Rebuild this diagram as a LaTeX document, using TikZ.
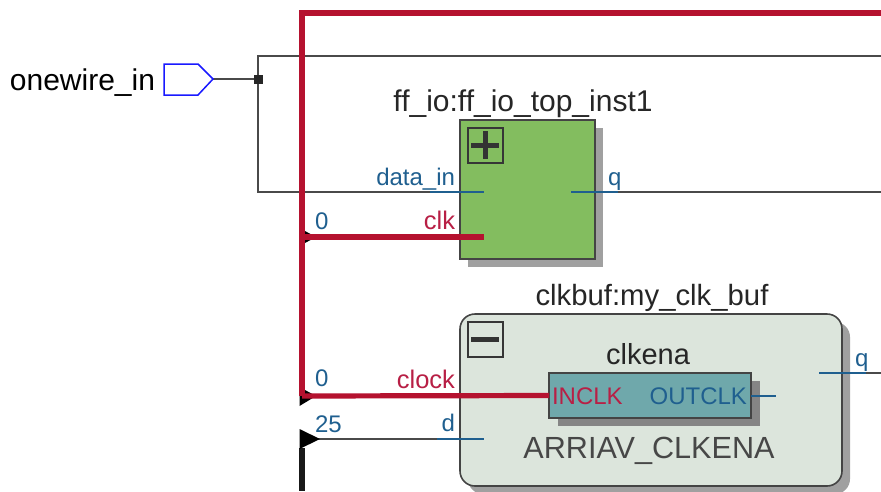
\documentclass[tikz,border=0pt]{standalone}
\usepackage{fontspec}
\setmainfont{Liberation Sans}
\usetikzlibrary{calc}
\definecolor{wirered}{HTML}{B5122F}
\definecolor{portblue}{HTML}{1F5F8F}
\definecolor{portred}{HTML}{B81F45}
\definecolor{wiregrey}{HTML}{4A4A4A}
\definecolor{greenfill}{HTML}{83BD5F}
\definecolor{greyfill}{HTML}{DCE5DC}
\definecolor{tealfill}{HTML}{6FA8AB}
\definecolor{shadowgrey}{HTML}{A0A0A0}
\definecolor{edgegrey}{HTML}{444444}
\tikzset{
  x=1pt,y=-1pt,
  wire/.style={draw=wiregrey,line width=1.4pt},
  bus/.style={draw=wirered,line width=5.2pt},
  blackbus/.style={draw=black!90,line width=5.2pt},
  stub/.style={draw=portblue,line width=1.4pt},
  blockbox/.style={draw=edgegrey,line width=1.6pt,inner sep=0pt,outer sep=0pt,anchor=north west},
  shade box/.style={fill=shadowgrey,draw=none,inner sep=0pt,outer sep=0pt,anchor=north west},
  lbl/.style={inner sep=0pt,outer sep=0pt,font=\fontsize{24}{26}\selectfont,text=#1},
  lbl/.default=portblue,
  title/.style={inner sep=0pt,outer sep=0pt,font=\fontsize{30}{32}\selectfont,text=black!85},
  arrowhead/.style={fill=black,draw=none},
}
\begin{document}
\begin{tikzpicture}
\useasboundingbox (0,0) rectangle (881,491);
\fill[white] (0,0) rectangle (881,491);

% loop wires
\coordinate (pinend) at (213,79);
\coordinate (dot) at (258,79);
\coordinate (looptopR) at (881,56);
\coordinate (loopbotL) at (258,192);
\coordinate (datatip) at (484,192);
\coordinate (qstart) at (571,192);
\coordinate (qR) at (881,192);
\coordinate (looptopL) at (258,56);

\draw[wire] (dot) -- (looptopL) -- (looptopR);
\draw[wire] (dot) -- (loopbotL) -- (datatip);

% green block
\node[shade box,minimum width=135pt,minimum height=139pt] (ffshade) at (468,128) {};
\node[blockbox,fill=greenfill,minimum width=135pt,minimum height=139pt] (ff) at (460,120) {};
\node[draw=edgegrey!80!black,line width=1.6pt,minimum size=35pt,inner sep=0pt,anchor=north west] (ffplus) at (467,127) {};
\draw[draw=black!80,line width=5pt] ($(ffplus.center)+(-14,0)$) -- ($(ffplus.center)+(14,0)$);
\draw[draw=black!80,line width=5pt] ($(ffplus.center)+(0,-14)$) -- ($(ffplus.center)+(0,14)$);

% grey block
\node[shade box,rounded corners=15pt,minimum width=382pt,minimum height=172pt] (cbshade) at (468,322) {};
\node[blockbox,fill=greyfill,rounded corners=15pt,minimum width=382pt,minimum height=172pt] (cb) at (460,314) {};
\node[draw=edgegrey!80!black,line width=1.6pt,minimum size=35pt,inner sep=0pt,anchor=north west] (cbminus) at (467,321) {};
\draw[draw=black!80,line width=5pt] ($(cbminus.center)+(-14,0)$) -- ($(cbminus.center)+(14,0)$);

% teal block
\node[shade box,fill=black!48,minimum width=202pt,minimum height=45pt] (ceshade) at (558,381) {};
\node[blockbox,fill=tealfill,minimum width=202pt,minimum height=45pt] (ce) at (549,373) {};

% red and black buses
\coordinate (bustop) at (302,13);
\coordinate (busR) at (881,13);
\coordinate (busjoin) at (302,396);
\coordinate (clktap) at (302,237);
\coordinate (clktip) at (484,237);
\coordinate (dtap) at (302,439);
\coordinate (dtip) at (484,439);
\coordinate (blackend) at (302,491);

\draw[wire] (dtap) -- (dtip);
\draw[stub] (437,439) -- (dtip);
\draw[blackbus] (302,448) -- (blackend);
\fill[arrowhead] (299.5,429) -- (320,439) -- (299.5,449) -- cycle;
\fill[arrowhead] (299.5,228) -- (316,237) -- (299.5,246) -- cycle;
\fill[arrowhead] (299.5,387) -- (316,396) -- (299.5,406) -- cycle;
\draw[bus,line join=miter] (busjoin) -- (bustop) -- (busR);
\draw[bus] (clktap) -- (clktip);
\draw[bus] (busjoin) -- (ce.west);

% stubs
\draw[stub] (430,192) -- (datatip);
\draw[wire] (618,192) -- (qR);
\draw[stub] (qstart) -- (618,192);
\draw[wire] (866,373) -- (881,373);
\draw[stub] (819,373) -- (866,373);
\draw[stub] (ce.east |- 0,396) -- (776,396);

% input pin
\node[inner sep=0pt] (pinlabel) at (82.5,83) {\fontsize{30}{32}\selectfont onewire\_in};
\draw[wire] (pinend) -- (dot);
\draw[draw=blue!90!white,line width=1.5pt,fill=white] (164,64) -- (198,64) -- (213,79) -- (198,95) -- (164,95) -- cycle;
\node[fill=black!85,minimum size=9pt,inner sep=0pt] (junction) at (dot) {};

% texts
\node[title,anchor=base] (fftitle) at (523,111) {ff\_io:ff\_io\_top\_inst1};
\node[title,anchor=base,font=\fontsize{29.3}{32}\selectfont] (cbtitle) at (652,305) {clkbuf:my\_clk\_buf};
\node[title,anchor=base,font=\fontsize{29}{32}\selectfont] (cename) at (648,364) {clkena};
\node[title,anchor=base,text=black!72,font=\fontsize{30.6}{32}\selectfont] (cetype) at (649,458) {ARRIAV\_CLKENA};
\node[lbl,anchor=base east] (ldata) at (455,185) {data\_in};
\node[lbl=portred,anchor=base east,font=\fontsize{25.5}{27}\selectfont] (lclk) at (455,229) {clk};
\node[lbl=portred,anchor=base east,font=\fontsize{25.5}{27}\selectfont] (lclock) at (455,388) {clock};
\node[lbl,anchor=base east] (ld) at (455,431) {d};
\node[lbl,anchor=base west] (lq1) at (608,185) {q};
\node[lbl,anchor=base west] (lq2) at (855,366) {q};
\node[lbl,anchor=base west] (zero1) at (315,229) {0};
\node[lbl,anchor=base west] (zero2) at (315,386) {0};
\node[lbl,anchor=base west] (n25) at (315,432) {25};
\node[lbl=portred,anchor=base west] (linclk) at (552,404) {INCLK};
\node[lbl,anchor=base east] (loutclk) at (747,404) {OUTCLK};
\end{tikzpicture}
\end{document}
